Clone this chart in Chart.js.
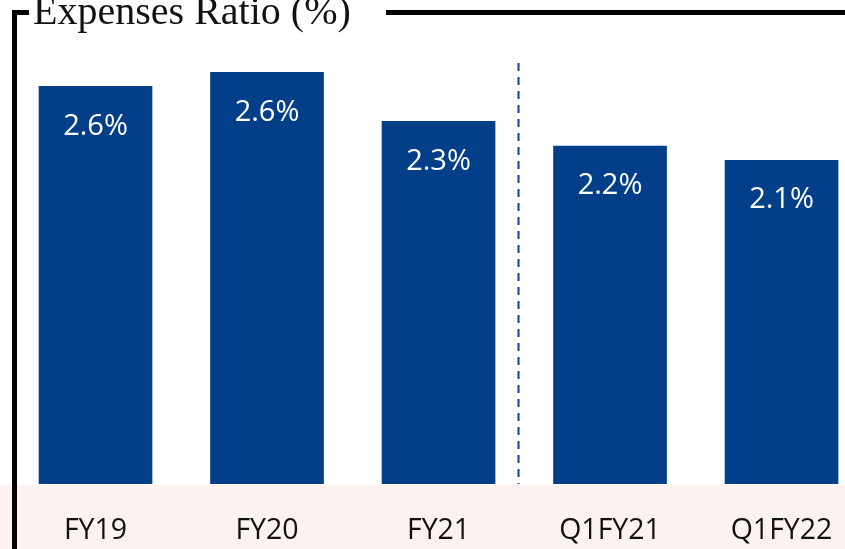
<!DOCTYPE html>
<html>
<head>
<meta charset="utf-8">
<script src="https://cdn.jsdelivr.net/npm/chart.js@4.4.1/dist/chart.umd.min.js"></script>
<style>
  html, body { margin: 0; padding: 0; background: #fff; }
  #wrap { width: 845px; height: 549px; position: relative; }
</style>
</head>
<body>
<div id="wrap"><canvas id="myChart"></canvas></div>
<script>
// data
const categories = ['FY19', 'FY20', 'FY21', 'Q1FY21', 'Q1FY22'];
const ratios = [2.555, 2.645, 2.33, 2.17, 2.08];
const dividerAt = 2.465; // dashed line between FY21 and Q1FY21
const titleText = 'Expenses Ratio (%)';

// frame, title, pink band and dashed divider
const decor = {
    id: 'decor',
    beforeDraw(chart) {
        const c = chart.ctx;
        const area = chart.chartArea;
        c.save();
        c.fillStyle = '#fcf3f1';
        c.fillRect(0, area.bottom + 1, chart.width, chart.height - area.bottom);
        c.restore();
    },
    afterDraw(chart) {
        const c = chart.ctx;
        const area = chart.chartArea;
        const x = chart.scales.x;
        c.save();
        // dashed divider
        const dx = Math.round(x.getPixelForValue(dividerAt)) + 0.5;
        c.strokeStyle = '#0d3fa6';
        c.lineWidth = 2;
        c.setLineDash([8, 6]);
        c.beginPath();
        c.moveTo(dx, 63);
        c.lineTo(dx, area.bottom);
        c.stroke();
        c.setLineDash([]);
        // frame
        c.fillStyle = '#000';
        c.fillRect(12, 10, 5, chart.height - 10);
        c.fillRect(12, 10, 17, 5);
        c.fillRect(386, 10, chart.width - 386, 5);
        // title
        c.font = '1px "Liberation Serif"';
        const w1 = c.measureText(titleText).width;
        const size = 318 / w1;
        c.font = size + 'px "Liberation Serif"';
        c.fillStyle = '#111';
        c.textBaseline = 'alphabetic';
        c.fillText(titleText, 33, 24);
        c.restore();
    }
};

// value labels inside the bars
const barLabels = {
    id: 'barLabels',
    afterDatasetsDraw(chart) {
        const c = chart.ctx;
        const meta = chart.getDatasetMeta(0);
        c.save();
        c.fillStyle = '#fff';
        c.font = '29px "Open Sans"';
        c.textAlign = 'center';
        c.textBaseline = 'middle';
        meta.data.forEach((bar, i) => {
            c.fillText(ratios[i].toFixed(1) + '%', bar.x, bar.y + 40);
        });
        c.restore();
    }
};

const data = {
    datasets: [{
        data: ratios.map((v, i) => ({ x: i, y: v })),
        backgroundColor: '#023f88',
        borderWidth: 0,
        barThickness: 113
    }]
};

const config = {
    type: 'bar',
    data: data,
    options: {
        responsive: false,
        animation: false,
        layout: {
            padding: { top: 17, left: 12, right: 0, bottom: 4 }
        },
        plugins: {
            legend: { display: false },
            tooltip: { enabled: false }
        },
        scales: {
            x: {
                type: 'linear',
                offset: false,
                min: -0.487,
                max: 4.37,
                afterBuildTicks: (scale) => {
                    scale.ticks = categories.map((c, i) => ({ value: i }));
                },
                afterFit: (scale) => {
                    scale.height = 61;
                    scale.paddingLeft = 0;
                    scale.paddingRight = 0;
                },
                grid: { display: false, drawTicks: false },
                border: { display: false },
                ticks: {
                    autoSkip: false,
                    maxRotation: 0,
                    padding: 30,
                    color: '#111',
                    font: { family: 'Open Sans', size: 28.5 },
                    callback: (value) => categories[value]
                }
            },
            y: {
                display: false,
                min: 0,
                max: 3
            }
        }
    },
    plugins: [decor, barLabels]
};

const canvas = document.getElementById('myChart');
canvas.width = 845;
canvas.height = 549;
const myChart = new Chart(canvas, config);
</script>
</body>
</html>
